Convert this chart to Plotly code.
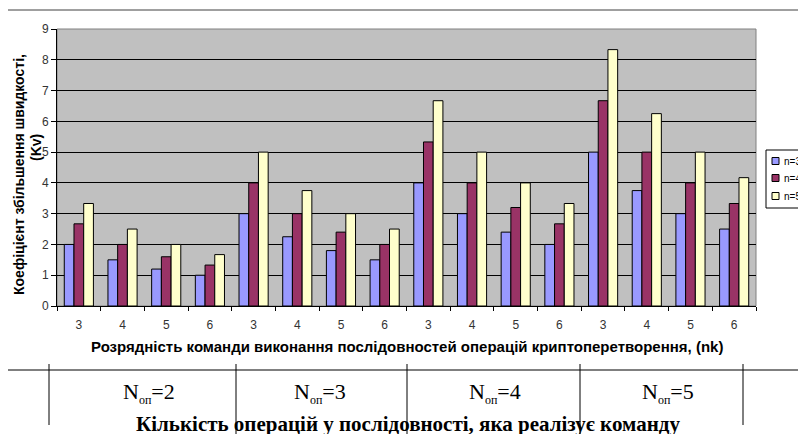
import plotly.graph_objects as go

# ---- data ----
nk_labels = ["3", "4", "5", "6"] * 4
series_names = ["n=3", "n=4", "n=5"]
kv_n3 = [2.0, 1.5, 1.2, 1.0, 3.0, 2.25, 1.8, 1.5, 4.0, 3.0, 2.4, 2.0, 5.0, 3.75, 3.0, 2.5]
kv_n4 = [2.67, 2.0, 1.6, 1.33, 4.0, 3.0, 2.4, 2.0, 5.33, 4.0, 3.2, 2.67, 6.67, 5.0, 4.0, 3.33]
kv_n5 = [3.33, 2.5, 2.0, 1.67, 5.0, 3.75, 3.0, 2.5, 6.67, 5.0, 4.0, 3.33, 8.33, 6.25, 5.0, 4.17]
nop_labels = ["2", "3", "4", "5"]
y_ticks = list(range(0, 10))

colors = ["#9999FF", "#993366", "#FFFFCC"]

W, H = 798, 434
ML, MR, MT, MB = 57, 42, 29, 128
PW, PH = W - ML - MR, H - MT - MB


def px(x):
    return (x - ML) / PW


def py(y):
    return (H - MB - y) / PH


xpos = list(range(len(nk_labels)))
fig = go.Figure()
for name, vals, c in zip(series_names, [kv_n3, kv_n4, kv_n5], colors):
    fig.add_trace(go.Bar(x=xpos, y=vals, name=name, showlegend=False,
                         marker=dict(color=c, line=dict(color="black", width=1))))

font_ax = dict(family="Liberation Sans, Arial", size=12, color="#333")

fig.update_layout(
    width=W, height=H,
    margin=dict(l=ML, r=MR, t=MT, b=MB, autoexpand=False),
    paper_bgcolor="white", plot_bgcolor="#C0C0C0",
    barmode="group", bargap=0.333, bargroupgap=0,
    xaxis=dict(range=[-0.5, 15.5], tickmode="array", tickvals=xpos, ticktext=nk_labels,
               ticks="", showgrid=False, showline=True, linecolor="black", linewidth=1,
               tickfont=font_ax, zeroline=False, ticklabelstandoff=8,
               minor=dict(tickmode="array", tickvals=[i - 0.5 for i in range(17)], ticks="outside",
                          ticklen=4, tickcolor="black", showgrid=False)),
    yaxis=dict(range=[0, 9], tickmode="array", tickvals=y_ticks, ticks="outside", ticklen=5,
               tickcolor="black", showgrid=True, gridcolor="black", gridwidth=1,
               showline=True, linecolor="black", linewidth=1, zeroline=False, tickfont=font_ax),
    showlegend=False,
)

shapes = []
# plot border (gray)
shapes.append(dict(type="rect", xref="paper", yref="paper", x0=0, x1=1, y0=0, y1=1,
                   line=dict(color="#808080", width=1), layer="below"))
# top line
shapes.append(dict(type="line", xref="paper", yref="paper", x0=px(8), x1=px(798), y0=py(10), y1=py(10),
                   line=dict(color="#404040", width=1)))
# table horizontal line
shapes.append(dict(type="line", xref="paper", yref="paper", x0=px(8), x1=px(798), y0=py(370), y1=py(370),
                   line=dict(color="black", width=1)))
# table verticals
for xv, yb in [(49, 425), (236, 434), (407, 434), (580, 434), (743, 425)]:
    shapes.append(dict(type="line", xref="paper", yref="paper", x0=px(xv), x1=px(xv), y0=py(364), y1=py(yb),
                       line=dict(color="black", width=1)))
# legend box
shapes.append(dict(type="rect", xref="paper", yref="paper", x0=px(766), x1=px(810), y0=py(150), y1=py(208),
                   line=dict(color="black", width=1), fillcolor="white"))
leg_y = [161, 178, 196]
for yy, c in zip(leg_y, colors):
    shapes.append(dict(type="rect", xref="paper", yref="paper", x0=px(772), x1=px(779), y0=py(yy - 3.5),
                       y1=py(yy + 3.5), line=dict(color="black", width=1), fillcolor=c))
fig.update_layout(shapes=shapes)

ann = []
for yy, name in zip(leg_y, series_names):
    ann.append(dict(text=name, x=px(782), y=py(yy), xref="paper", yref="paper", xanchor="left",
                    yanchor="middle", showarrow=False,
                    font=dict(family="Liberation Sans, Arial", size=10, color="black")))
ann.append(dict(text="<b>Коефіцієнт збільшення швидкості,</b>", x=px(19), y=py(175), xref="paper", yref="paper",
                xanchor="center", yanchor="middle",
                textangle=-90, showarrow=False, font=dict(family="Liberation Sans, Arial", size=14, color="black")))
ann.append(dict(text="<b>(Kv)</b>", x=px(36), y=py(148), xref="paper", yref="paper",
                xanchor="center", yanchor="middle",
                textangle=-90, showarrow=False, font=dict(family="Liberation Sans, Arial", size=14, color="black")))
ann.append(dict(text="<b>Розрядність команди виконання послідовностей операцій криптоперетворення, (nk)</b>",
                x=px(407), y=py(347), xref="paper", yref="paper", xanchor="center", yanchor="middle",
                showarrow=False, font=dict(family="Liberation Sans, Arial", size=15, color="black")))
for xc, lab in zip([149, 320, 495, 668], nop_labels):
    ann.append(dict(text="N<sub><span style='font-size:12px'>оп</span></sub>=" + lab, x=px(xc), y=py(393),
                    xref="paper", yref="paper", xanchor="center", yanchor="middle", showarrow=False,
                    font=dict(family="Liberation Serif, Times New Roman", size=22, color="black")))
ann.append(dict(text="<b>Кількість операцій у послідовності, яка реалізує команду</b>", x=px(408), y=py(424),
                xref="paper", yref="paper", xanchor="center", yanchor="middle", showarrow=False,
                font=dict(family="Liberation Serif, Times New Roman", size=21, color="black")))
fig.update_layout(annotations=ann)

fig.write_html("out.html", config={"displayModeBar": False},
               post_script="document.body.style.margin='0';")
